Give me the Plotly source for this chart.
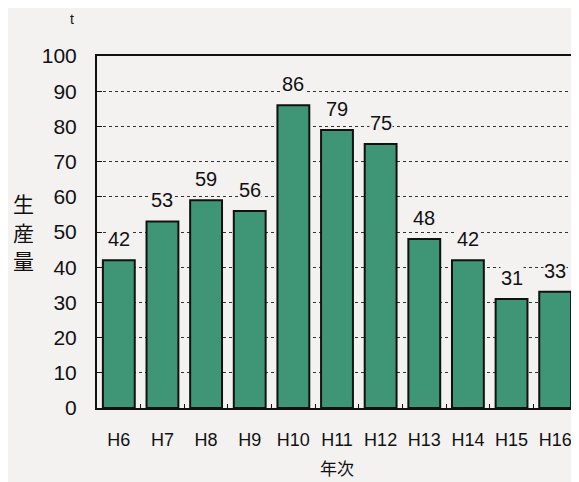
import plotly.graph_objects as go

categories = ["H6", "H7", "H8", "H9", "H10", "H11", "H12", "H13", "H14", "H15", "H16"]
values = [42, 53, 59, 56, 86, 79, 75, 48, 42, 31, 33]
y_ticks = [0, 10, 20, 30, 40, 50, 60, 70, 80, 90, 100]
y_title_chars = ["生", "産", "量"]

FONT = "Liberation Sans, Arial, sans-serif"
CJK = "Noto Sans CJK JP"
BG = "#f4f2f1"

fig = go.Figure(go.Bar(
    x=categories, y=values,
    marker=dict(color="#3e9676", line=dict(color="#111111", width=2)),
    cliponaxis=False,
))

for c, v in zip(categories, values):
    fig.add_annotation(x=c, y=v, text=str(v), showarrow=False, yanchor="bottom",
                       yshift=9, bgcolor=BG, borderpad=0,
                       font=dict(size=20, family=FONT, color="#111111"))

fig.update_layout(
    width=571, height=474,
    margin=dict(l=89, r=0, t=48, b=74),
    paper_bgcolor=BG, plot_bgcolor=BG,
    bargap=0.27,
    showlegend=False,
    font=dict(family=FONT, color="#111111"),
)
fig.update_yaxes(
    range=[0, 100], tickvals=y_ticks,
    tickfont=dict(size=21, family=FONT, color="#111111"),
    ticklabelstandoff=14,
    showgrid=True, gridcolor="#333333", griddash="3px,3px", gridwidth=1,
    showline=True, linecolor="#111111", linewidth=2, mirror=True,
    ticks="inside", ticklen=5, tickcolor="#111111",
    zeroline=False,
)
fig.update_xaxes(
    tickfont=dict(size=18, family=FONT, color="#111111"),
    tickangle=0, ticklabelstandoff=14,
    showline=True, linecolor="#111111", linewidth=2, mirror=True,
    ticks="inside", tickson="boundaries", ticklen=4, tickcolor="#111111",
    showgrid=False,
)
for i, ch in enumerate(y_title_chars):
    fig.add_annotation(text=ch, xref="paper", yref="paper",
                       x=-0.154, y=0.582 - i * 0.081, showarrow=False,
                       xanchor="center", yanchor="middle",
                       font=dict(size=21, family=CJK, color="#111111"))
fig.add_annotation(text="t", xref="paper", yref="paper",
                   x=-0.052, y=1.105, showarrow=False,
                   xanchor="center", yanchor="middle",
                   font=dict(size=14, family=FONT, color="#111111"))
fig.add_annotation(text="年次", xref="paper", yref="paper",
                   x=0.5, y=-0.168, showarrow=False,
                   xanchor="center", yanchor="middle",
                   font=dict(size=17, family=CJK, color="#111111"))

fig.write_html("out.html")
